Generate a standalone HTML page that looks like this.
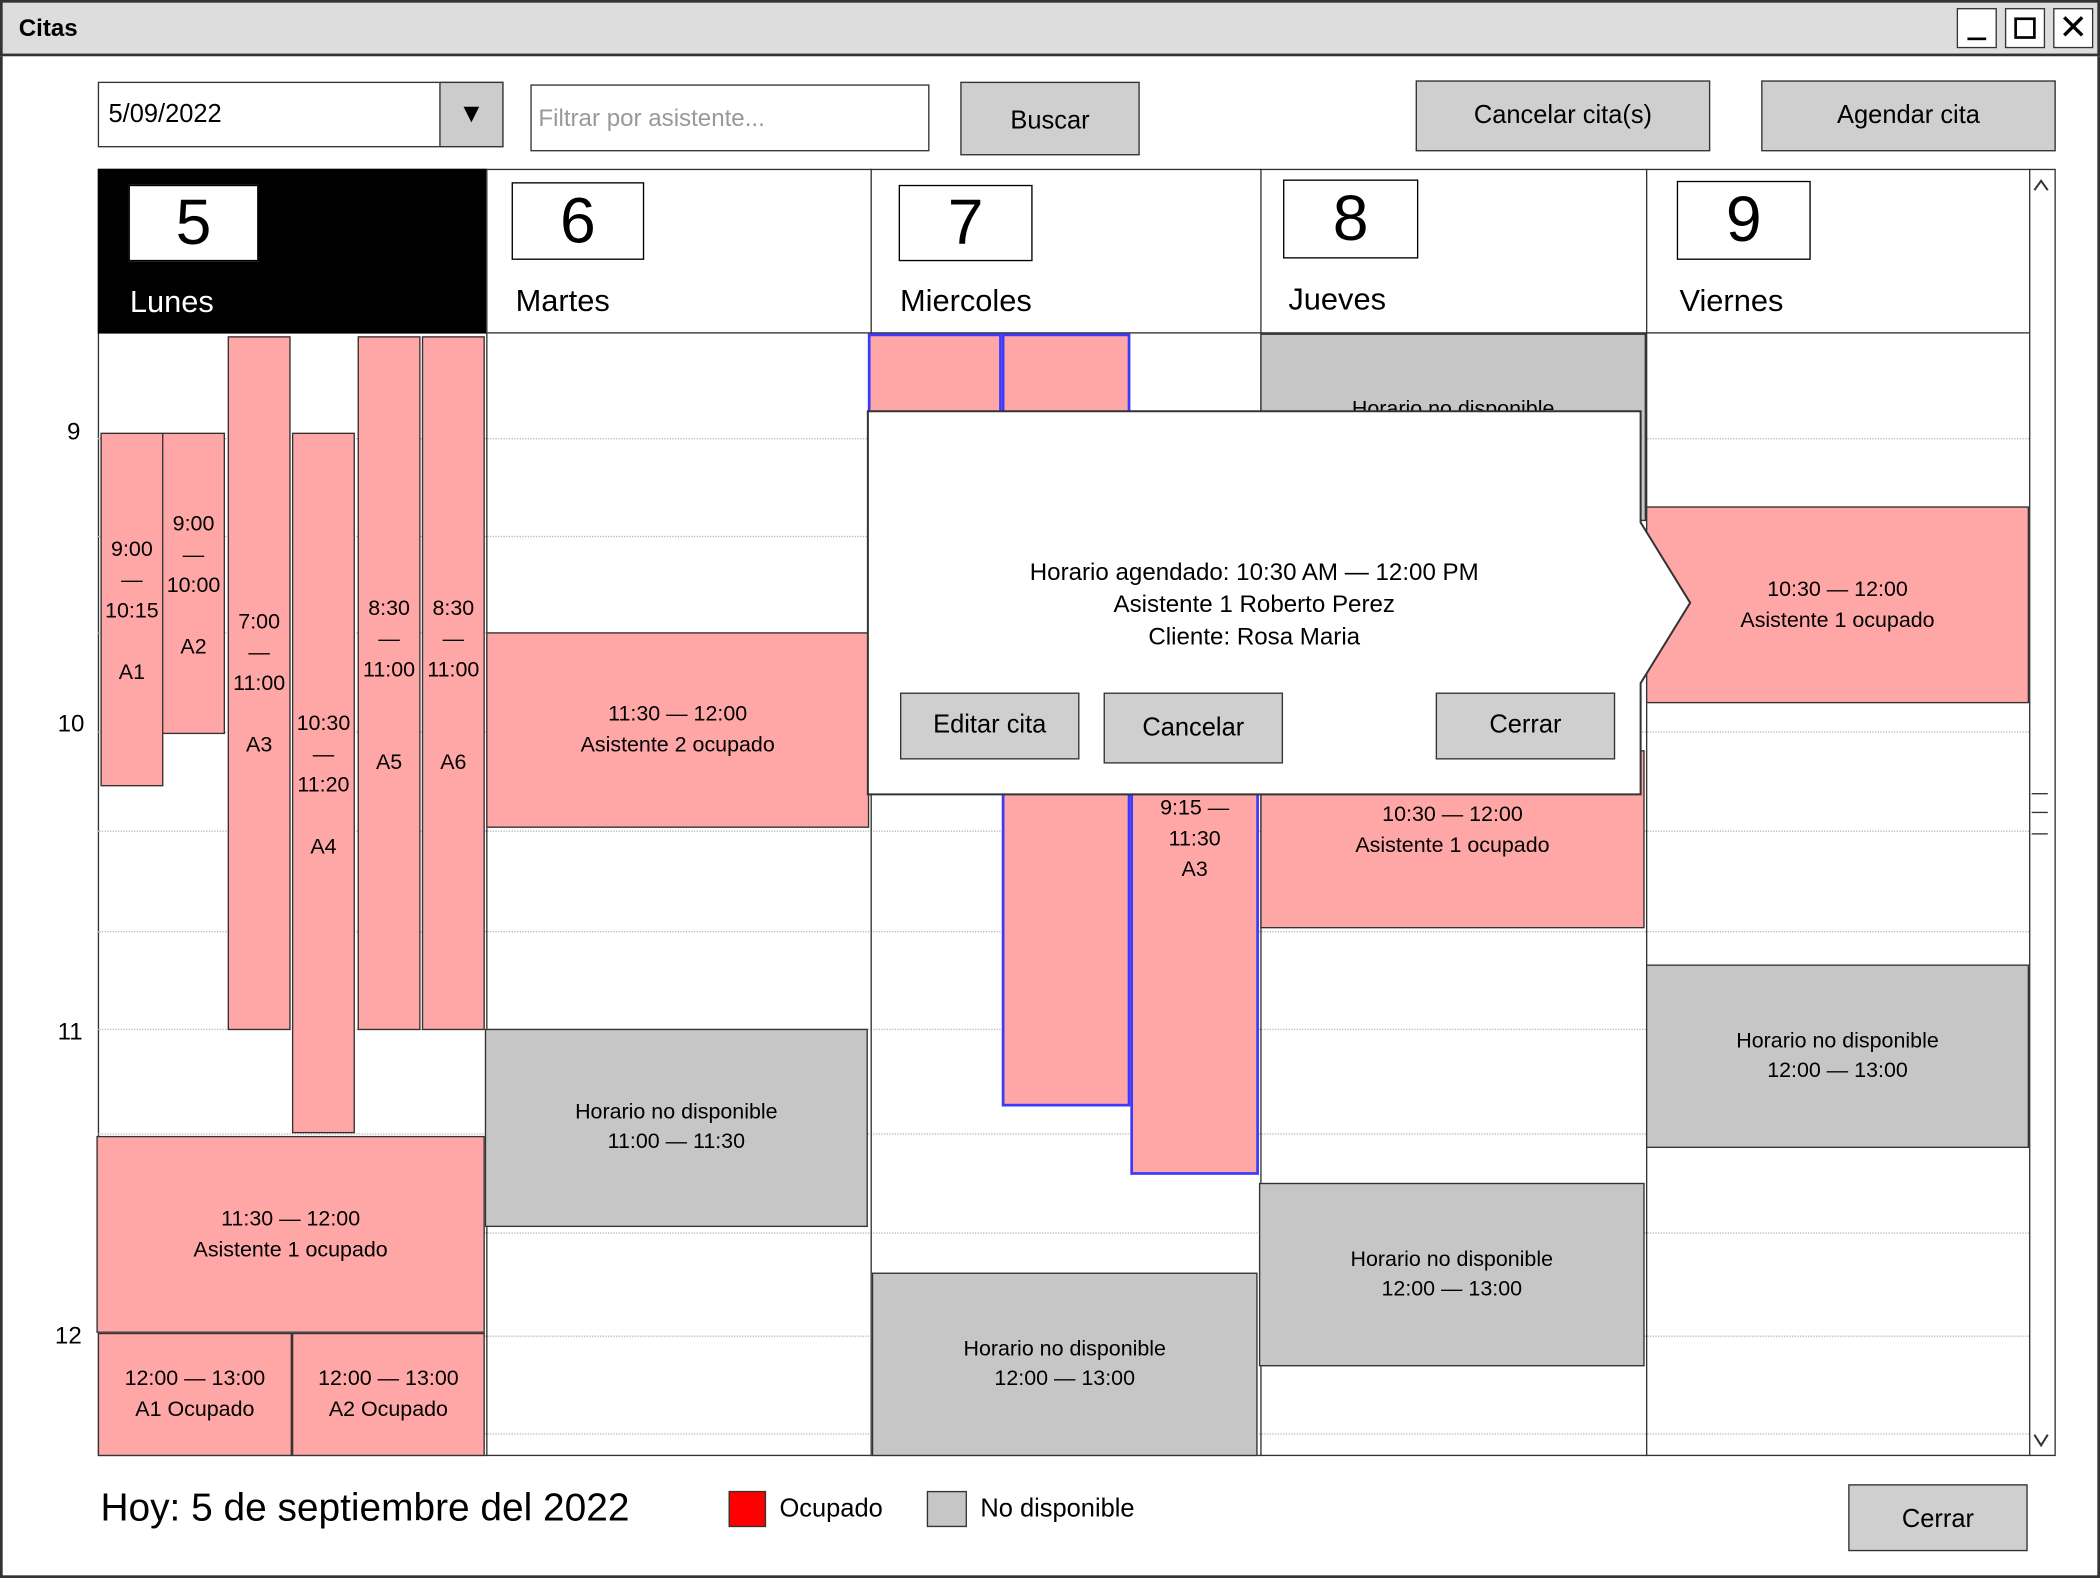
<!DOCTYPE html>
<html><head><meta charset="utf-8">
<style>
html,body{margin:0;padding:0;background:#fff;overflow:hidden}
#s{position:absolute;left:0;top:0;width:1568px;height:1178px;transform:scale(1.33929,1.33956);transform-origin:0 0;font-family:"Liberation Sans","DejaVu Sans",sans-serif;color:#000}
.a{position:absolute;box-sizing:border-box}
.p{background:#ffa7a7;border:1.5px solid #333;display:flex;align-items:center;justify-content:center;text-align:center;font-size:16px;line-height:23px}
.g{background:#c6c6c6;border:1.5px solid #333;display:flex;align-items:center;justify-content:center;text-align:center;font-size:16px;line-height:22px}
.btn{background:#cfcfcf;border:1.5px solid #333;display:flex;align-items:center;justify-content:center;font-size:19px}
.num{background:#fff;border:1.5px solid #000;font-size:48px;display:flex;align-items:center;justify-content:center}
.day{font-size:23px}
.dl{border-top:1px dotted #bbb;height:0}
.hr{font-size:18px}
.bl{border:2.5px solid #3a3aff}
</style></head><body><div id="s">
<div class="a" style="left:0;top:0;width:1568px;height:1178px;border:2px solid #333"></div>
<div class="a" style="left:0;top:0;width:1568px;height:42px;background:#ddd;border:2px solid #333"></div>
<div class="a" style="left:14px;top:11px;font-size:18px;font-weight:bold">Citas</div>
<div class="a" style="left:1461px;top:6px;width:30px;height:30px;border:1.5px solid #333;background:#fff"><div class="a" style="left:7px;top:21px;width:14px;border-top:2px solid #000"></div></div>
<div class="a" style="left:1497px;top:6px;width:30px;height:30px;border:1.5px solid #333;background:#fff"><div class="a" style="left:6px;top:6px;width:16px;height:16px;border:2px solid #000"></div></div>
<div class="a" style="left:1533px;top:6px;width:30px;height:30px;border:1.5px solid #333;background:#fff;font-size:26px;line-height:26px;text-align:center">✕</div>

<div class="a" style="left:73px;top:61px;width:303px;height:49px;border:1.5px solid #333;background:#fff"></div>
<div class="a" style="left:81px;top:75px;font-size:19px">5/09/2022</div>
<div class="a" style="left:328px;top:61px;width:48px;height:49px;border:1.5px solid #333;background:#ccc;font-size:20px;display:flex;align-items:center;justify-content:center">▼</div>
<div class="a" style="left:396px;top:63px;width:298px;height:50px;border:1.5px solid #333;background:#fff"></div>
<div class="a" style="left:402px;top:78px;font-size:18px;color:#999">Filtrar por asistente...</div>
<div class="a btn" style="left:717px;top:61px;width:134px;height:55px;padding-top:4px">Buscar</div>
<div class="a btn" style="left:1057px;top:60px;width:220px;height:53px">Cancelar cita(s)</div>
<div class="a btn" style="left:1315px;top:60px;width:220px;height:53px">Agendar cita</div>

<div class="a" style="left:73px;top:126px;width:1462px;height:961px;border:1.5px solid #333"></div>
<div class="a" style="left:1515px;top:126px;width:20px;height:961px;border-left:1.5px solid #333"></div>
<svg class="a" style="left:1515px;top:126px" width="20" height="961">
<polyline points="4,16 9,9 14,16" fill="none" stroke="#333" stroke-width="1.5"/>
<polyline points="4,945 9,953 14,945" fill="none" stroke="#333" stroke-width="1.5"/>
</svg>
<div class="a" style="left:1517px;top:592px;width:12px;border-top:1.5px solid #333"></div>
<div class="a" style="left:1517px;top:606px;width:12px;border-top:1.5px solid #333"></div>
<div class="a" style="left:1517px;top:622px;width:12px;border-top:1.5px solid #333"></div>

<div class="a dl" style="left:73px;top:327px;width:1442px"></div>
<div class="a dl" style="left:73px;top:400px;width:1442px"></div>
<div class="a dl" style="left:73px;top:472px;width:1442px"></div>
<div class="a dl" style="left:73px;top:546px;width:1442px"></div>
<div class="a dl" style="left:73px;top:620px;width:1442px"></div>
<div class="a dl" style="left:73px;top:695px;width:1442px"></div>
<div class="a dl" style="left:73px;top:768px;width:1442px"></div>
<div class="a dl" style="left:73px;top:846px;width:1442px"></div>
<div class="a dl" style="left:73px;top:920px;width:1442px"></div>
<div class="a dl" style="left:73px;top:997px;width:1442px"></div>
<div class="a dl" style="left:73px;top:1070px;width:1442px"></div>

<div class="a" style="left:363px;top:126px;height:961px;border-left:1.5px solid #333"></div>
<div class="a" style="left:650px;top:126px;height:961px;border-left:1.5px solid #333"></div>
<div class="a" style="left:941px;top:126px;height:961px;border-left:1.5px solid #333"></div>
<div class="a" style="left:1229px;top:126px;height:961px;border-left:1.5px solid #333"></div>
<div class="a" style="left:73px;top:248px;width:1442px;border-top:1.5px solid #333"></div>

<div class="a hr" style="left:50px;top:312px">9</div>
<div class="a hr" style="left:43px;top:530px">10</div>
<div class="a hr" style="left:43px;top:760px">11</div>
<div class="a hr" style="left:41px;top:987px">12</div>

<div class="a" style="left:73px;top:126px;width:290px;height:123px;background:#000"></div>
<div class="a num" style="left:96px;top:138px;width:97px;height:57px">5</div>
<div class="a day" style="left:97px;top:212px;color:#fff">Lunes</div>
<div class="a num" style="left:382px;top:136px;width:99px;height:58px">6</div>
<div class="a day" style="left:385px;top:211px">Martes</div>
<div class="a num" style="left:671px;top:138px;width:100px;height:57px">7</div>
<div class="a day" style="left:672px;top:211px">Miercoles</div>
<div class="a num" style="left:958px;top:134px;width:101px;height:59px">8</div>
<div class="a day" style="left:962px;top:210px">Jueves</div>
<div class="a num" style="left:1252px;top:135px;width:100px;height:59px">9</div>
<div class="a day" style="left:1254px;top:211px">Viernes</div>

<div class="a p" style="left:75px;top:323px;width:47px;height:264px;align-items:flex-start;padding-top:75px">9:00<br>—<br>10:15<br><br>A1</div>
<div class="a p" style="left:121px;top:323px;width:47px;height:225px;align-items:flex-start;padding-top:56px">9:00<br>—<br>10:00<br><br>A2</div>
<div class="a p" style="left:170px;top:251px;width:47px;height:518px;align-items:flex-start;padding-top:201px">7:00<br>—<br>11:00<br><br>A3</div>
<div class="a p" style="left:218px;top:323px;width:47px;height:523px;align-items:flex-start;padding-top:205px">10:30<br>—<br>11:20<br><br>A4</div>
<div class="a p" style="left:267px;top:251px;width:47px;height:518px;align-items:flex-start;padding-top:191px">8:30<br>—<br>11:00<br><br><br>A5</div>
<div class="a p" style="left:315px;top:251px;width:47px;height:518px;align-items:flex-start;padding-top:191px">8:30<br>—<br>11:00<br><br><br>A6</div>
<div class="a p" style="left:72px;top:848px;width:290px;height:147px">11:30 — 12:00<br>Asistente 1 ocupado</div>
<div class="a p" style="left:73px;top:995px;width:145px;height:92px">12:00 — 13:00<br>A1 Ocupado</div>
<div class="a p" style="left:218px;top:995px;width:144px;height:92px">12:00 — 13:00<br>A2 Ocupado</div>

<div class="a p" style="left:363px;top:472px;width:286px;height:146px">11:30 — 12:00<br>Asistente 2 ocupado</div>
<div class="a g" style="left:362px;top:768px;width:286px;height:148px">Horario no disponible<br>11:00 — 11:30</div>

<div class="a p bl" style="left:648px;top:249px;width:100px;height:62px"></div>
<div class="a p bl" style="left:748px;top:249px;width:96px;height:577px"></div>
<div class="a p bl" style="left:844px;top:560px;width:96px;height:317px;align-items:flex-start;padding-top:30px">9:15 —<br>11:30<br>A3</div>
<div class="a g" style="left:651px;top:950px;width:288px;height:137px">Horario no disponible<br>12:00 — 13:00</div>

<div class="a g" style="left:941px;top:249px;width:288px;height:140px;align-items:flex-start;padding-top:45px">Horario no disponible</div>
<div class="a p" style="left:941px;top:560px;width:287px;height:133px;padding-bottom:14px;padding-top:0">10:30 — 12:00<br>Asistente 1 ocupado</div>
<div class="a g" style="left:940px;top:883px;width:288px;height:137px">Horario no disponible<br>12:00 — 13:00</div>

<div class="a p" style="left:1229px;top:378px;width:286px;height:147px">10:30 — 12:00<br>Asistente 1 ocupado</div>
<div class="a g" style="left:1229px;top:720px;width:286px;height:137px">Horario no disponible<br>12:00 — 13:00</div>

<svg class="a" style="left:640px;top:300px" width="640" height="300">
<polygon points="8,7 585,7 585,90 622,150 585,210 585,293 8,293" fill="#fff" stroke="#333" stroke-width="1.5"/>
</svg>
<div class="a" style="left:648px;top:415px;width:577px;text-align:center;font-size:18px;line-height:24px">Horario agendado: 10:30 AM — 12:00 PM<br>Asistente 1 Roberto Perez<br>Cliente: Rosa Maria</div>
<div class="a btn" style="left:672px;top:517px;width:134px;height:50px">Editar cita</div>
<div class="a btn" style="left:824px;top:517px;width:134px;height:53px">Cancelar</div>
<div class="a btn" style="left:1072px;top:517px;width:134px;height:50px">Cerrar</div>

<div class="a" style="left:75px;top:1110px;font-size:29px">Hoy: 5 de septiembre del 2022</div>
<div class="a" style="left:544px;top:1113px;width:28px;height:27px;background:#f00;border:1.5px solid #333"></div>
<div class="a" style="left:582px;top:1116px;font-size:19px">Ocupado</div>
<div class="a" style="left:692px;top:1113px;width:30px;height:27px;background:#c6c6c6;border:1.5px solid #333"></div>
<div class="a" style="left:732px;top:1116px;font-size:19px">No disponible</div>
<div class="a btn" style="left:1380px;top:1108px;width:134px;height:50px;padding-top:4px">Cerrar</div>
</div></body></html>
